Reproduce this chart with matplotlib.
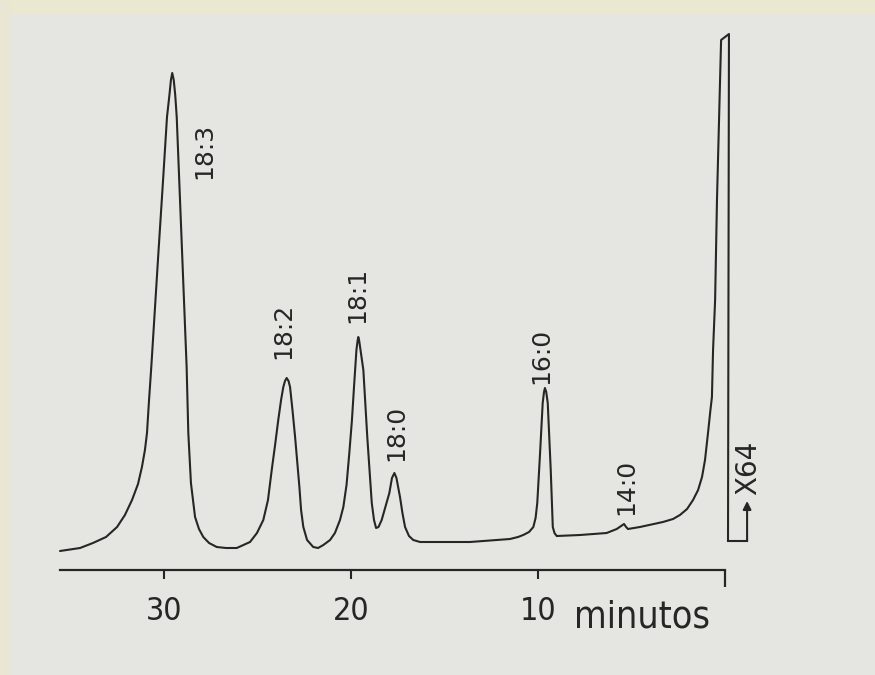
import matplotlib
matplotlib.use("Agg")
import matplotlib.pyplot as plt
from matplotlib import font_manager
from matplotlib.patches import Rectangle
import numpy as np

# ---------------- data ----------------
# retention time in minutes (axis runs from 35.5 min on the left to 0 on the right)
time_min = [
    35.56, 34.49, 33.80, 33.10, 32.51, 32.09, 31.71, 31.39, 31.18, 31.02,
    30.91, 30.80, 30.68, 30.46, 30.29, 30.06, 29.84, 29.71, 29.63, 29.56,
    29.48, 29.40, 29.32, 29.18, 29.04, 28.93, 28.79, 28.70, 28.56, 28.34,
    28.13, 27.90, 27.59, 27.18, 26.68, 26.11,
    25.40, 25.03, 24.69, 24.44, 24.24, 24.06, 23.89, 23.74, 23.62, 23.53,
    23.44, 23.34, 23.26, 23.13, 22.99, 22.76, 22.67, 22.55, 22.35, 22.02,
    21.76, 21.48,
    21.12, 20.86, 20.59, 20.41, 20.24, 20.09, 19.95, 19.84, 19.71, 19.65,
    19.61, 19.56, 19.49, 19.34, 19.13, 18.89, 18.77, 18.66, 18.53, 18.36,
    18.13, 17.95, 17.81, 17.68, 17.57, 17.38, 17.25, 17.11, 16.90, 16.67,
    16.31,
    13.64, 11.50, 11.07, 10.79, 10.48, 10.25, 10.13, 10.04, 9.89, 9.75,
    9.68, 9.63, 9.56, 9.48, 9.32, 9.21, 9.12, 9.00,
    7.75, 6.33, 5.79, 5.56, 5.40, 5.29, 5.19, 4.55,
    3.32, 2.78, 2.41, 2.03, 1.71, 1.44, 1.23, 1.07, 0.91, 0.78,
    0.70, 0.64, 0.53, 0.43, 0.32, 0.21, -0.21, -0.16,
]
# detector response (arbitrary units above the time axis)
response = [
    19, 22, 27, 33, 43, 55, 70, 86, 103, 120,
    137, 170, 203, 270, 320, 387, 453, 475, 490, 497,
    490, 475, 453, 387, 320, 270, 203, 137, 87, 53,
    41, 33, 27, 23, 22, 22,
    28, 37, 50, 70, 100, 125, 150, 170, 183, 189,
    192, 189, 183, 160, 133, 83, 60, 43, 30, 23,
    22, 25,
    30, 37, 50, 63, 85, 117, 150, 183, 220, 229,
    233, 229, 220, 200, 133, 67, 50, 42, 43, 50,
    65, 77, 92, 97, 92, 73, 57, 43, 34, 30,
    28,
    28, 31, 33, 35, 38, 43, 52, 67, 117, 167,
    178, 182, 178, 167, 100, 43, 37, 34,
    35, 37, 41, 44, 46, 43, 41, 43,
    48, 51, 55, 61, 70, 80, 93, 110, 137, 160,
    173, 220, 270, 370, 450, 530, 536, 29,
]

peak_names = ["18:3", "18:2", "18:1", "18:0", "16:0", "14:0"]
peak_times = [29.56, 23.44, 19.61, 17.68, 9.63, 5.40]

tick_values = [30, 20, 10]
tick_labels = ["30", "20", "10"]
axis_start = 35.56
axis_end = 0.0
axis_unit = "minutos"

attenuation_label = "X64"
attenuation_time = -1.18

# ---------------- styling ----------------
ink = "#262624"
bg = "#e5e5e2"
label_font = "DejaVu Sans"
has_condensed = any(f.name == "DejaVu Sans" and "condensed" in str(f.stretch)
                    for f in font_manager.fontManager.ttflist)
if has_condensed:
    tick_kw = dict(fontfamily="DejaVu Sans", fontstretch="condensed", fontsize=23)
    unit_kw = dict(fontfamily="DejaVu Sans", fontstretch="condensed", fontsize=27)
else:
    tick_kw = dict(fontfamily="DejaVu Sans", fontsize=21)
    unit_kw = dict(fontfamily="DejaVu Sans", fontsize=25)

fig = plt.figure(figsize=(8.75, 6.75), dpi=100, facecolor=bg)
# slightly yellowed paper edges
fig.patches.append(Rectangle((0, 0.981), 1, 0.019, transform=fig.transFigure,
                             color="#ebe8d1", zorder=0))
fig.patches.append(Rectangle((0, 0), 0.010, 1, transform=fig.transFigure,
                             color="#e9e7d3", zorder=0))

ax = fig.add_axes([0, 0, 1, 1])
ax.set_facecolor("none")
ax.set_xlim(38.77, -8.02)
ax.set_ylim(-105, 570)

for s in ["top", "right", "left"]:
    ax.spines[s].set_visible(False)
sp = ax.spines["bottom"]
sp.set_position(("data", 0))
sp.set_bounds(axis_end, axis_start)
sp.set_linewidth(1.6)
sp.set_color(ink)

ax.set_yticks([])
ax.set_xticks(tick_values)
ax.set_xticklabels(tick_labels, color=ink, **tick_kw)
ax.set_xticks([axis_end], minor=True)
ax.tick_params(axis="x", which="major", direction="out", length=6.5, width=1.5,
               pad=12, color=ink)
ax.tick_params(axis="x", which="minor", direction="out", length=12, width=1.6,
               color=ink, labelbottom=False)

ax.text(4.45, -47, axis_unit, color=ink, ha="center", va="center", **unit_kw)

# trace
ax.plot(time_min, response, color=ink, lw=1.5, solid_joinstyle="round",
        solid_capstyle="round")

# peak labels
t_arr = np.array(time_min[:-2])[::-1]
r_arr = np.array(response[:-2])[::-1]
offsets = [(32, -78), (-3, 47), (-1, 42), (2, 40), (-4, 32), (2, 37)]
for name, t, off in zip(peak_names, peak_times, offsets):
    v = float(np.interp(t, t_arr, r_arr))
    ax.annotate(name, xy=(t, v), xytext=off, textcoords="offset pixels",
                rotation=90, ha="center", va="center", fontsize=18,
                fontfamily=label_font, color=ink)

# attenuation change marker
ax.plot([time_min[-1], attenuation_time], [response[-1], response[-1]],
        color=ink, lw=1.5)
ax.annotate("", xy=(attenuation_time, response[-1] + 40),
            xytext=(attenuation_time, response[-1]),
            arrowprops=dict(arrowstyle="-|>", lw=1.5, color=ink,
                            mutation_scale=12, shrinkA=0, shrinkB=0))
ax.text(attenuation_time - 0.05, 102, attenuation_label, rotation=90,
        fontsize=20, fontfamily=label_font, color=ink, ha="center", va="center")

fig.savefig("out.png", dpi=100, facecolor=fig.get_facecolor())
